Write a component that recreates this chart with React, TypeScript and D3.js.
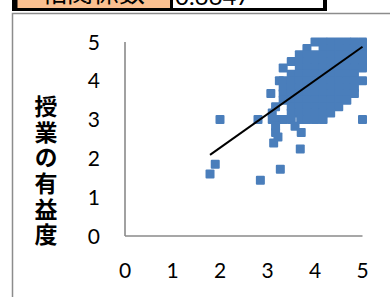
import React from "react";
import * as d3 from "d3";

// ---- data ----
const xTicks = [0, 1, 2, 3, 4, 5];
const yTicks = [0, 1, 2, 3, 4, 5];
const yTitle = "授業の有益度";
const headerLabel = "相関係数";
const headerValue = "0.6647";

// scatter rows: [y value, x values]
const scatterRows: [number, number[]][] = [
  [5.0, [4.0, 4.17, 4.33, 4.5, 4.67, 4.83, 5.0]],
  [4.83, [3.83, 4.17, 4.33, 4.5, 4.67, 4.83, 5.0]],
  [4.67, [3.67, 3.83, 4.0, 4.17, 4.33, 4.5, 4.67, 4.83, 5.0]],
  [4.5, [3.5, 3.67, 3.83, 4.0, 4.17, 4.33, 4.5, 4.67, 4.83, 5.0]],
  [4.33, [3.33, 3.67, 3.83, 4.0, 4.17, 4.33, 4.5, 4.67, 4.83, 5.0]],
  [4.17, [3.5, 3.67, 3.83, 4.0, 4.17, 4.33, 4.5, 4.67, 4.83]],
  [4.0, [3.25, 3.33, 3.5, 3.67, 3.83, 4.0, 4.17, 4.33, 4.5, 4.67, 4.83, 5.0]],
  [3.83, [3.33, 3.5, 3.67, 3.83, 4.0, 4.17, 4.33, 4.5, 4.67, 4.83]],
  [3.67, [3.07, 3.33, 3.5, 3.67, 3.83, 4.0, 4.17, 4.33, 4.5, 4.67, 4.83]],
  [3.5, [3.33, 3.5, 3.67, 3.83, 4.0, 4.17, 4.33, 4.5, 4.67]],
  [3.33, [3.17, 3.5, 3.67, 3.83, 4.0, 4.17, 4.33, 4.5]],
  [3.17, [3.1, 3.5, 3.67, 3.83, 4.0, 4.17, 4.33]],
  [3.0, [2.0, 2.8, 3.1, 3.2, 3.33, 3.5, 3.7, 3.83, 4.0, 4.17, 5.0]],
  [2.83, [3.17, 3.58]],
  [2.67, [3.17, 3.71]],
  [2.55, [3.22]],
  [2.4, [3.13]],
  [2.24, [3.69]],
  [1.85, [1.9]],
  [1.72, [3.27]],
  [1.6, [1.79]],
  [1.44, [2.85]],
];

// linear trendline
const trendSlope = 0.869;
const trendIntercept = 0.534;

const points = scatterRows.flatMap(([y, xs]) => xs.map((x) => ({ x, y })));

export default function App() {
  const W = 390;
  const H = 297;
  const x = d3.scaleLinear().domain([0, 5]).range([125, 362.5]);
  const y = d3.scaleLinear().domain([0, 5]).range([236, 42]);
  const xMin = d3.min(points, (p) => p.x) as number;
  const xMax = d3.max(points, (p) => p.x) as number;
  const line = d3
    .line<number>()
    .x((v) => x(v))
    .y((v) => y(trendIntercept + trendSlope * v));
  const ms = 9;
  const tickFont = "Lato, 'Open Sans', sans-serif";
  const cjk = "'Noto Sans CJK JP', sans-serif";
  return (
    <svg
      width={W}
      height={H}
      style={{ position: "absolute", left: 0, top: 0, background: "#fff" }}
    >
      <rect x={0} y={0} width={W} height={H} fill="#fff" />
      {/* chart frame */}
      <rect x={12.5} y={13.5} width={500} height={400} fill="#fff" stroke="#8c8c8c" strokeWidth={1.5} />
      {/* header table */}
      <rect x={12} y={-6} width={315} height={17} fill="#000" />
      <rect x={17.5} y={-6} width={152.5} height={14} fill="#fac090" />
      <rect x={173} y={-6} width={150} height={14} fill="#fff" />
      <text x={93} y={1.5} fontFamily={cjk} fontSize={26} textAnchor="middle" fill="#000">
        {headerLabel}
      </text>
      <text x={175} y={5} fontFamily={tickFont} fontSize={24} fill="#000">
        {headerValue}
      </text>
      {/* axes */}
      <line x1={x(0)} x2={x(0)} y1={y(5)} y2={y(0)} stroke="#8a8a8a" strokeWidth={1.6} />
      <line x1={x(0)} x2={x(5)} y1={y(0)} y2={y(0)} stroke="#8a8a8a" strokeWidth={1.6} />
      {/* tick labels */}
      {yTicks.map((t) => (
        <text key={"y" + t} x={100} y={y(t)} dy="0.36em" textAnchor="end" fontFamily={tickFont} fontSize={21} fill="#000">
          {t}
        </text>
      ))}
      {xTicks.map((t) => (
        <text key={"x" + t} x={x(t)} y={278} textAnchor="middle" fontFamily={tickFont} fontSize={21} fill="#000">
          {t}
        </text>
      ))}
      {/* y title, vertical writing */}
      <text
        x={46}
        y={95}
        style={{ writingMode: "vertical-rl", textOrientation: "upright" } as React.CSSProperties}
        letterSpacing={2.6}
        fontFamily={cjk}
        fontWeight={700}
        fontSize={23}
        fill="#000"
      >
        {yTitle}
      </text>
      {/* markers */}
      {points.map((p, i) => (
        <rect
          key={i}
          x={x(p.x) - ms / 2}
          y={y(p.y) - ms / 2}
          width={ms}
          height={ms}
          rx={1}
          fill="#4a7ebb"
        />
      ))}
      {/* trendline */}
      <path d={line([xMin, xMax]) || ""} fill="none" stroke="#000" strokeWidth={2} />
    </svg>
  );
}
